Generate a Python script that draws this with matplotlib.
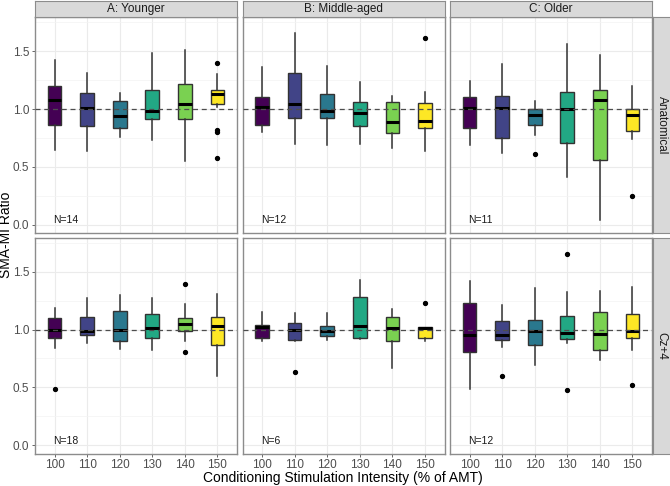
import matplotlib
matplotlib.use("Agg")
import matplotlib.pyplot as plt
from matplotlib.patches import Rectangle

plt.rcParams["font.family"] = ["Liberation Sans", "DejaVu Sans"]

# Boxplot summaries: (whisker low, Q1, median, Q3, whisker high)
intensities = ["100", "110", "120", "130", "140", "150"]
age_groups = ["A: Younger", "B: Middle-aged", "C: Older"]
sites = ["Anatomical", "Cz+4"]

anat_younger = [(0.65, 0.86, 1.08, 1.20, 1.42),
                (0.64, 0.85, 1.01, 1.14, 1.31),
                (0.76, 0.84, 0.94, 1.07, 1.14),
                (0.73, 0.91, 0.98, 1.16, 1.48),
                (0.55, 0.91, 1.04, 1.22, 1.51),
                (1.02, 1.04, 1.13, 1.16, 1.30)]
anat_younger_out = [[], [], [], [], [], [1.40, 0.82, 0.80, 0.58]]

anat_middle = [(0.80, 0.86, 1.02, 1.10, 1.36),
               (0.70, 0.92, 1.04, 1.31, 1.66),
               (0.69, 0.92, 0.98, 1.13, 1.37),
               (0.70, 0.85, 0.97, 1.06, 1.23),
               (0.66, 0.79, 0.89, 1.06, 1.11),
               (0.64, 0.84, 0.90, 1.05, 1.15)]
anat_middle_out = [[], [], [], [], [], [1.61]]

anat_older = [(0.69, 0.84, 1.01, 1.10, 1.24),
              (0.62, 0.75, 1.01, 1.11, 1.39),
              (0.78, 0.86, 0.95, 1.00, 1.07),
              (0.41, 0.71, 1.00, 1.15, 1.56),
              (0.04, 0.56, 1.08, 1.16, 1.47),
              (0.74, 0.81, 0.95, 1.00, 1.20)]
anat_older_out = [[], [], [0.61], [], [], [0.25]]

cz_younger = [(0.84, 0.93, 1.00, 1.10, 1.19),
              (0.88, 0.95, 0.99, 1.11, 1.27),
              (0.83, 0.90, 1.00, 1.16, 1.30),
              (0.82, 0.93, 1.01, 1.13, 1.27),
              (0.90, 0.99, 1.05, 1.10, 1.22),
              (0.60, 0.87, 1.03, 1.11, 1.31)]
cz_younger_out = [[0.49], [], [], [], [1.39, 0.81], []]

cz_middle = [(0.90, 0.93, 1.02, 1.04, 1.15),
             (0.90, 0.91, 1.00, 1.06, 1.14),
             (0.91, 0.94, 0.99, 1.03, 1.14),
             (0.92, 0.93, 1.03, 1.28, 1.43),
             (0.67, 0.90, 1.01, 1.11, 1.18),
             (0.90, 0.93, 1.01, 1.02, 1.02)]
cz_middle_out = [[], [0.63], [], [], [], [1.23]]

cz_older = [(0.49, 0.81, 0.95, 1.23, 1.42),
            (0.85, 0.91, 0.95, 1.07, 1.21),
            (0.69, 0.87, 0.99, 1.08, 1.36),
            (0.88, 0.92, 0.97, 1.12, 1.32),
            (0.74, 0.82, 0.96, 1.15, 1.33),
            (0.82, 0.93, 0.99, 1.13, 1.37)]
cz_older_out = [[], [0.60], [], [1.65, 0.48], [], [0.52]]

sample_sizes = [["N=14", "N=12", "N=11"], ["N=18", "N=6", "N=12"]]

panels = [[(anat_younger, anat_younger_out), (anat_middle, anat_middle_out), (anat_older, anat_older_out)],
          [(cz_younger, cz_younger_out), (cz_middle, cz_middle_out), (cz_older, cz_older_out)]]

colors = ["#440154", "#414487", "#2A788E", "#22A884", "#7AD151", "#FDE725"]

W, H = 670, 486
fig = plt.figure(figsize=(W / 100, H / 100), dpi=100)

col_left = [35, 242.5, 450]
col_w = 202
row_top = [17.5, 238]
row_h = 215.5
strip_h = 16.5
border = "#8C8C8C"


def frac(x, y, w, h):
    return [x / W, 1 - (y + h) / H, w / W, h / H]


for r in range(2):
    for c in range(3):
        stats_rows, outs = panels[r][c]
        ax = fig.add_axes(frac(col_left[c], row_top[r], col_w, row_h))
        stats = []
        for (lo, q1, med, q3, hi), fl in zip(stats_rows, outs):
            stats.append(dict(whislo=lo, q1=q1, med=med, q3=q3, whishi=hi, fliers=fl))
        bp = ax.bxp(stats, positions=range(1, 7), widths=0.42, patch_artist=True,
                    showcaps=False,
                    boxprops=dict(edgecolor="#333333", linewidth=1.0),
                    whiskerprops=dict(color="#333333", linewidth=1.1),
                    medianprops=dict(color="black", linewidth=2.2),
                    flierprops=dict(marker="o", markerfacecolor="black",
                                    markeredgecolor="black", markersize=2.8))
        for box, col in zip(bp["boxes"], colors):
            box.set_facecolor(col)
        ax.axhline(1.0, color="#4D4D4D", linestyle=(0, (4, 3)), linewidth=0.9, zorder=5)

        ax.set_xlim(0.4, 6.6)
        ax.set_ylim(-0.07, 1.79)
        ax.set_yticks([0.0, 0.5, 1.0, 1.5])
        ax.set_yticks([0.25, 0.75, 1.25, 1.75], minor=True)
        ax.set_xticks(range(1, 7))
        ax.set_xticklabels(intensities)
        ax.set_yticklabels(["0.0", "0.5", "1.0", "1.5"])
        ax.grid(True, which="major", color="#EBEBEB", linewidth=0.8)
        ax.grid(True, which="minor", axis="y", color="#F3F3F3", linewidth=0.5)
        ax.set_axisbelow(True)
        ax.tick_params(which="minor", length=0)
        ax.tick_params(which="major", length=2.5, color="#4D4D4D", width=0.6,
                       labelsize=8.5, labelcolor="#4D4D4D", pad=1.5)
        if c > 0:
            ax.tick_params(axis="y", labelleft=False, length=0)
        if r == 0:
            ax.tick_params(axis="x", labelbottom=False, length=0)
        for s in ax.spines.values():
            s.set_color(border)
            s.set_linewidth(1.0)
        ax.text(0.97, 0.04, sample_sizes[r][c], ha="left", va="center",
                fontsize=7.5, color="#1A1A1A")

# facet strips
for c in range(3):
    sax = fig.add_axes(frac(col_left[c], row_top[0] - strip_h, col_w, strip_h))
    sax.add_patch(Rectangle((0, 0), 1, 1, transform=sax.transAxes,
                            facecolor="#D9D9D9", edgecolor="none"))
    sax.set_xticks([])
    sax.set_yticks([])
    for s in sax.spines.values():
        s.set_color(border)
    sax.text(0.5, 0.5, age_groups[c], ha="center", va="center",
             fontsize=8.5, color="#1A1A1A")

for r in range(2):
    sax = fig.add_axes(frac(col_left[2] + col_w + 0.5, row_top[r], 18, row_h))
    sax.add_patch(Rectangle((0, 0), 1, 1, transform=sax.transAxes,
                            facecolor="#D9D9D9", edgecolor="none"))
    sax.set_xticks([])
    sax.set_yticks([])
    for s in sax.spines.values():
        s.set_color(border)
    sax.text(0.5, 0.5, sites[r], ha="center", va="center", rotation=270,
             fontsize=8.5, color="#1A1A1A")

fig.text(6.5 / W, 1 - 235 / H, "SMA-MI Ratio", rotation=90, ha="center", va="center",
         fontsize=10)
fig.text(343 / W, 1 - 478 / H, "Conditioning Stimulation Intensity (% of AMT)",
         ha="center", va="center", fontsize=10)

fig.savefig("out.png", dpi=100)
